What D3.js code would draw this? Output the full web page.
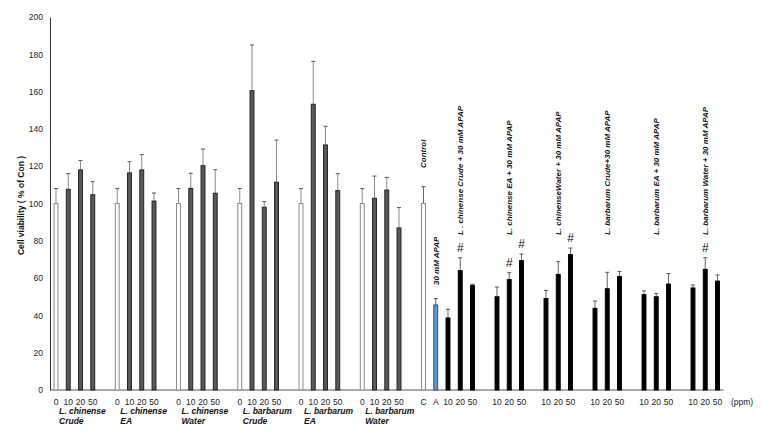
<!DOCTYPE html>
<html><head><meta charset="utf-8">
<script src="https://cdn.jsdelivr.net/npm/d3@7"></script>
<style>body{margin:0;background:#fff}svg{display:block}text{font-family:"Liberation Sans",Arial,sans-serif}</style>
</head><body><svg id="c" width="762" height="431"></svg>
<script>
const yTicks = [0,20,40,60,80,100,120,140,160,180,200];
const leftGroups = [["L. chinense","Crude"],["L. chinense","EA"],["L. chinense","Water"],["L. barbarum","Crude"],["L. barbarum","EA"],["L. barbarum","Water"]];
const leftDoses = ["0","10","20","50"];
const leftMeans = [[100,107.6,118,104.7],[100,116.4,118,101.3],[100,108.1,120.3,105.5],[100,160.5,98,111.4],[100,153.2,131.4,106.9],[100,102.8,107.2,86.9]];
const leftErrors = [[8,8.4,5,7],[8,6,8.2,4.3],[8,8.1,8.9,12.6],[8,24.5,3,22.6],[8,23,10,9.1],[8,11.9,6.8,10.9]];
const controlLabel = "Control", controlTick = "C", controlMean = 100, controlErr = 9;
const apapLabel = "30 mM APAP", apapTick = "A", apapMean = 45.6, apapErr = 3.4;
const rightLabels = ["L . chinense Crude + 30 mM APAP","L. chinense EA + 30 mM APAP","L. chinenseWater + 30 mM APAP","L. barbarum Crude+30 mM APAP","L. barbarum EA + 30 mM APAP","L. barbarum Water + 30 mM APAP"];
const rightDoses = ["10","20","50"];
const rightMeans = [[38.6,64,56],[50,59.2,69.4],[49,62,72.6],[43.8,54.3,60.8],[51.1,50,56.8],[54.7,64.7,58.4]];
const rightErrors = [[4.7,6.9,0.7],[5.2,3.7,3.5],[4.4,6.8,3.5],[3.9,8.8,2.8],[2,1.8,5.6],[1.6,6.2,3.3]];
const rightHash = [[0,1,0],[0,1,1],[0,0,1],[0,0,0],[0,0,0],[0,1,0]];
const yTitle = "Cell viability ( % of Con )";
const unitLabel = "(ppm)";

// build bar list with slot indices
const bars = [];
let slot = 0;
leftGroups.forEach((g,gi)=>{
  leftDoses.forEach((d,di)=>{
    bars.push({slot:slot++, v:leftMeans[gi][di], e:leftErrors[gi][di], tick:d, kind: di===0?"white":"gray", panel:"L"});
  });
  slot++;
});
bars.push({slot:slot++, v:controlMean, e:controlErr, tick:controlTick, kind:"white", panel:"R"});
bars.push({slot:slot++, v:apapMean, e:apapErr, tick:apapTick, kind:"blue", panel:"R"});
const rightCenters = [];
rightLabels.forEach((lab,gi)=>{
  rightDoses.forEach((d,di)=>{
    if(di===1) rightCenters.push({slot, label:lab});
    bars.push({slot:slot++, v:rightMeans[gi][di], e:rightErrors[gi][di], tick:d, kind:"black", panel:"R", hash:rightHash[gi][di]});
  });
  if(gi<rightLabels.length-1) slot++;
});
const nSlots = slot;

const svg = d3.select("#c");
const x = d3.scaleBand().domain(d3.range(nSlots)).range([50,723.5]).paddingInner(0.6).paddingOuter(0.29);
const y = d3.scaleLinear().domain([0,200]).range([390,17]);

// y axis
const yAxis = d3.axisLeft(y).tickValues(yTicks).tickSize(0).tickPadding(7);
const ya = svg.append("g").attr("transform","translate(50,0)").call(yAxis);
ya.select(".domain").attr("stroke","#333").attr("stroke-width",1);
ya.selectAll("text").attr("font-size",8.5).attr("fill","#222").style("font-family","'Liberation Sans',Arial,sans-serif");

// x axis line
svg.append("line").attr("x1",50).attr("x2",723.5).attr("y1",y(0)).attr("y2",y(0)).attr("stroke","#555").attr("stroke-width",1);

svg.append("text").attr("transform",`translate(24,${(y(0)+y(200))/2+2}) rotate(-90)`)
  .attr("text-anchor","middle").attr("font-size",8.5).attr("font-weight","bold").attr("fill","#111").text(yTitle);

const cx = s => x(s)+x.bandwidth()/2;
const style = {
  white:{fill:"#fff",stroke:"#888"},
  gray:{fill:"#5a5a5a",stroke:"#222"},
  blue:{fill:"#5b9bd5",stroke:"#2f4f6f"},
  black:{fill:"#000",stroke:"#000"}
};

// error bars
const eg = svg.append("g");
bars.forEach(b=>{
  const c = cx(b.slot);
  const col = b.panel==="L" ? "#8c8c8c" : "#666";
  eg.append("line").attr("x1",c).attr("x2",c).attr("y1",y(b.v)).attr("y2",y(b.v+b.e)).attr("stroke",col).attr("stroke-width",1);
  eg.append("line").attr("x1",c-2).attr("x2",c+2).attr("y1",y(b.v+b.e)).attr("y2",y(b.v+b.e)).attr("stroke","#555").attr("stroke-width",1);
});

// bars
svg.append("g").selectAll("rect").data(bars).join("rect")
  .attr("x",b=>x(b.slot)+0.5).attr("width",x.bandwidth()-1)
  .attr("y",b=>y(b.v)).attr("height",b=>y(0)-y(b.v))
  .attr("fill",b=>style[b.kind].fill).attr("stroke",b=>style[b.kind].stroke).attr("stroke-width",1);

// hash marks
svg.append("g").selectAll("text").data(bars.filter(b=>b.hash)).join("text")
  .attr("x",b=>cx(b.slot)).attr("y",b=>y(b.v+b.e)-6).attr("text-anchor","middle")
  .attr("font-size",12).attr("fill","#111").text("#");

// tick labels
svg.append("g").selectAll("text").data(bars).join("text")
  .attr("x",b=>cx(b.slot)).attr("y",405).attr("text-anchor","middle")
  .attr("font-size",8.5).attr("fill","#222").text(b=>b.tick);

svg.append("text").attr("x",731).attr("y",405).attr("font-size",8.5).attr("fill","#222").text(unitLabel);

// left group labels
leftGroups.forEach((g,gi)=>{
  const s = gi*5;
  const t = svg.append("text").attr("font-size",8.5).attr("font-weight","bold").attr("font-style","italic").attr("fill","#111");
  t.append("tspan").attr("x",cx(s)+3).attr("y",413.5).text(g[0]);
  t.append("tspan").attr("x",cx(s)+3).attr("y",423.5).text(g[1]);
});

// rotated labels
const rot = (xc, yb, txt) => svg.append("text").attr("transform",`translate(${xc+3},${yb}) rotate(-90)`)
  .attr("font-size",8).attr("font-weight","bold").attr("font-style","italic").attr("fill","#111").text(txt);
const cb = bars.find(b=>b.tick===controlTick), ab = bars.find(b=>b.tick===apapTick);
rot(cx(cb.slot), 168, controlLabel);
rot(cx(ab.slot), 285, apapLabel);
rightCenters.forEach(r=>rot(cx(r.slot), 235, r.label));
</script></body></html>
